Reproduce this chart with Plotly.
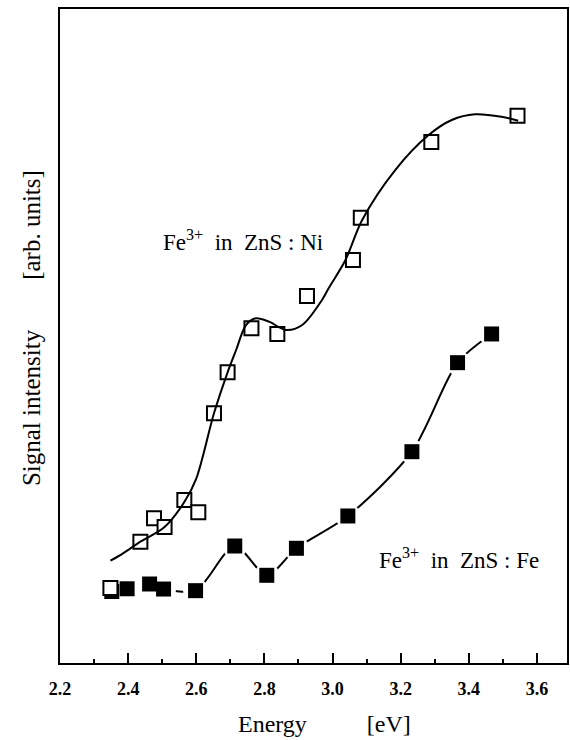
import plotly.graph_objects as go

# ---- data (signal in arbitrary units 0..100) ----
ni_energy = [2.348, 2.436, 2.476, 2.507, 2.565, 2.606, 2.652, 2.692, 2.762, 2.838,
             2.925, 3.060, 3.083, 3.290, 3.543]
ni_signal = [11.47, 18.55, 22.13, 20.80, 24.92, 23.04, 38.18, 44.45, 51.18, 50.31,
             56.12, 61.62, 68.09, 79.66, 83.69]

ni_fit_energy = [2.348, 2.385, 2.436, 2.507, 2.565, 2.600, 2.652, 2.692,
                 2.717, 2.746, 2.775, 2.814, 2.863, 2.911, 2.969, 2.989, 3.038, 3.087,
                 3.184, 3.282, 3.350, 3.418, 3.496, 3.545]
ni_fit_signal = [15.64, 16.77, 18.55, 20.80, 24.62, 28.20, 38.18, 44.45,
                 47.86, 51.68, 52.71, 52.19, 50.92, 51.68, 55.50, 57.34, 61.62, 67.74,
                 75.38, 80.73, 83.03, 83.90, 83.53, 82.92]

fe_energy = [2.352, 2.397, 2.463, 2.504, 2.598, 2.713, 2.807, 2.894, 3.045, 3.233,
             3.367, 3.467]
fe_signal = [10.93, 11.35, 12.08, 11.31, 11.06, 17.89, 13.41, 17.54, 22.48, 32.31,
             45.92, 50.31]

x_ticks = [2.2, 2.4, 2.6, 2.8, 3.0, 3.2, 3.4, 3.6]
x_tick_labels = ["2.2", "2.4", "2.6", "2.8", "3.0", "3.2", "3.4", "3.6"]
x_minor_ticks = [2.3, 2.5, 2.7, 2.9, 3.1, 3.3, 3.5]

label_ni = "Fe<sup>3+</sup>\u00a0\u00a0in\u00a0\u00a0ZnS\u00a0:\u00a0Ni"
label_fe = "Fe<sup>3+</sup>\u00a0\u00a0in\u00a0\u00a0ZnS\u00a0:\u00a0Fe"
x_title = "Energy" + "\u00a0" * 10 + "[eV]"
y_title = "Signal intensity" + "\u00a0" * 8 + "[arb. units]"

SERIF = "Liberation Serif"

fig = go.Figure()

# Fe connecting curve (broken near each marker by a white halo)
fig.add_trace(go.Scatter(x=fe_energy, y=fe_signal, mode="lines",
                         line=dict(color="black", width=2, shape="spline", smoothing=0.8),
                         hoverinfo="skip", showlegend=False))
fig.add_trace(go.Scatter(x=fe_energy, y=fe_signal, mode="markers",
                         marker=dict(symbol="circle", size=25, color="white",
                                     line=dict(width=0)),
                         hoverinfo="skip", showlegend=False))
fig.add_trace(go.Scatter(x=fe_energy, y=fe_signal, mode="markers",
                         marker=dict(symbol="square", size=15, color="black",
                                     line=dict(color="black", width=0)),
                         showlegend=False))
# Ni open squares
fig.add_trace(go.Scatter(x=ni_energy, y=ni_signal, mode="markers",
                         marker=dict(symbol="square", size=14, color="white",
                                     line=dict(color="black", width=2)),
                         showlegend=False))
# Ni fitted curve
fig.add_trace(go.Scatter(x=ni_fit_energy, y=ni_fit_signal, mode="lines",
                         line=dict(color="black", width=2, shape="spline", smoothing=0.9),
                         hoverinfo="skip", showlegend=False))

fig.add_annotation(x=2.496, y=64.6, xref="x", yref="y", text=label_ni, showarrow=False,
                   xanchor="left", yanchor="middle",
                   font=dict(family=SERIF, size=23, color="black"))
fig.add_annotation(x=3.130, y=16.0, xref="x", yref="y", text=label_fe, showarrow=False,
                   xanchor="left", yanchor="middle",
                   font=dict(family=SERIF, size=23, color="black"))
fig.add_annotation(x=(326 - 60) / 509, y=-(724 - 663) / 654, xref="paper", yref="paper",
                   text=x_title, showarrow=False, xanchor="center", yanchor="middle",
                   font=dict(family=SERIF, size=24, color="black"))
fig.add_annotation(x=-(60 - 31) / 509, y=(663 - 328) / 654, xref="paper", yref="paper",
                   text=y_title, showarrow=False, textangle=-90,
                   xanchor="center", yanchor="middle",
                   font=dict(family=SERIF, size=25, color="black"))

fig.update_layout(
    width=570, height=740,
    margin=dict(l=60, r=1, t=9, b=77),
    paper_bgcolor="white", plot_bgcolor="white",
    showlegend=False,
    xaxis=dict(range=[2.2, 2.2 + 509 / 342], tickmode="array", tickvals=x_ticks,
               ticktext=["<b>" + t + "</b>" for t in x_tick_labels],
               ticks="inside", ticklen=10, tickwidth=2,
               tickcolor="black", showgrid=False, zeroline=False,
               showline=True, linecolor="black", linewidth=2, mirror=True,
               ticklabelstandoff=8,
               tickfont=dict(family=SERIF, size=18, color="black"),
               minor=dict(tickmode="array", tickvals=x_minor_ticks,
                          ticks="inside", ticklen=4, tickwidth=2, tickcolor="black",
                          showgrid=False)),
    yaxis=dict(range=[0, 100], showticklabels=False, ticks="", showgrid=False,
               zeroline=False, showline=True, linecolor="black", linewidth=2,
               mirror=True),
)

fig.write_html("out.html", config={"displayModeBar": False},
               post_script="document.body.style.margin='0';document.body.style.overflow='hidden';")
